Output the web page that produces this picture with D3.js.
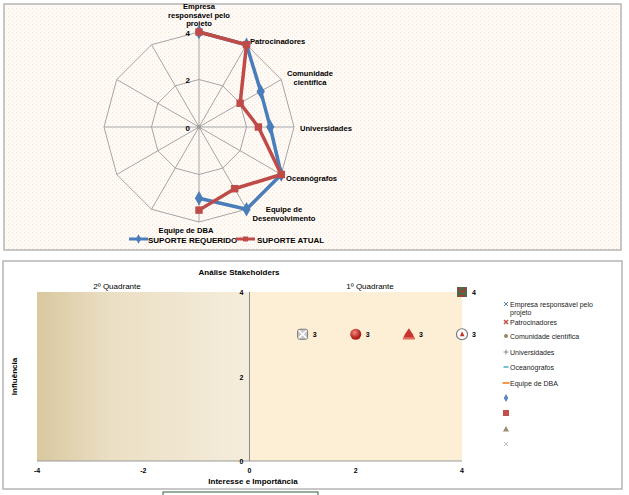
<!DOCTYPE html>
<html>
<head>
<meta charset="utf-8">
<script src="https://cdn.jsdelivr.net/npm/d3@7"></script>
<style>
  body { margin: 0; background: #fff; }
  svg text { font-family: "Liberation Sans", Arial, sans-serif; }
</style>
</head>
<body>
<svg id="chart" width="629" height="495"></svg>
<script>
// radar data (12 axes, the last 5 empty)
const categorias = [
  ["Empresa", "responsável pelo", "projeto"],
  ["Patrocinadores"],
  ["Comunidade", "científica"],
  ["Universidades"],
  ["Oceanógrafos"],
  ["Equipe de", "Desenvolvimento"],
  ["Equipe de DBA"],
  [], [], [], [], []
];
const suporteRequerido = [4, 4, 3, 3, 4, 4, 3, null, null, null, null, null];
const suporteAtual = [4, 4, 2, 2.5, 4, 3, 3.5, null, null, null, null, null];
const radarTicks = [0, 2, 4];

// scatter data
const stakeX = [1, 2, 3, 4, 4];
const stakeY = [3, 3, 3, 3, 4];
const stakeLabel = ["3", "3", "3", "3", "4"];
const xTicks = [-4, -2, 0, 2, 4];
const yTicks = [0, 2, 4];
const legendNames = ["Empresa responsável pelo|projeto", "Patrocinadores", "Comunidade científica",
  "Universidades", "Oceanógrafos", "Equipe de DBA", "", "", "", ""];

const svg = d3.select("#chart");
const defs = svg.append("defs");

// dotted background pattern for radar chart
const pat = defs.append("pattern").attr("id", "dots").attr("width", 4).attr("height", 4)
  .attr("patternUnits", "userSpaceOnUse");
pat.append("rect").attr("width", 4).attr("height", 4).attr("fill", "#fffcf9");
pat.append("rect").attr("x", 0).attr("y", 0).attr("width", 1.2).attr("height", 1.2).attr("fill", "#fbe4d2");
pat.append("rect").attr("x", 2).attr("y", 2).attr("width", 1.2).attr("height", 1.2).attr("fill", "#fbe9da");

const grad = defs.append("linearGradient").attr("id", "leftbg");
grad.append("stop").attr("offset", "0%").attr("stop-color", "#d9c89f");
grad.append("stop").attr("offset", "35%").attr("stop-color", "#ebdfc4");
grad.append("stop").attr("offset", "100%").attr("stop-color", "#f5eddc");

const ball = defs.append("radialGradient").attr("id", "ball").attr("cx", "40%").attr("cy", "35%");
ball.append("stop").attr("offset", "0%").attr("stop-color", "#f08a80");
ball.append("stop").attr("offset", "100%").attr("stop-color", "#b3201b");

/** RADAR **/
svg.append("rect").attr("x", 4).attr("y", 4).attr("width", 617).attr("height", 246)
  .attr("fill", "url(#dots)").attr("stroke", "#b5b5b5").attr("stroke-width", 1.5);

const cx = 199, cy = 127;
const r = d3.scaleLinear().domain([0, 4]).range([0, 95]);
const ang = (i) => (i * 2 * Math.PI) / categorias.length;
const pt = (i, v) => [cx + r(v) * Math.sin(ang(i)), cy - r(v) * Math.cos(ang(i))];

const radar = svg.append("g");
radarTicks.filter((t) => t > 0).forEach((t) => {
  radar.append("path")
    .attr("d", d3.line()(categorias.map((c, i) => pt(i, t))) + "Z")
    .attr("fill", "none").attr("stroke", "#a6a6a6").attr("stroke-width", 1);
});
categorias.forEach((c, i) => {
  const p = pt(i, 4);
  radar.append("line").attr("x1", cx).attr("y1", cy).attr("x2", p[0]).attr("y2", p[1])
    .attr("stroke", "#a6a6a6").attr("stroke-width", 1);
});
radar.append("circle").attr("cx", cx).attr("cy", cy).attr("r", 2).attr("fill", "#999");
radarTicks.forEach((t) => {
  radar.append("text").attr("x", cx - 9).attr("y", cy - r(t) + 3.5)
    .attr("text-anchor", "end").attr("font-size", 8).attr("font-weight", "bold").text(t);
});

const labelPos = [
  { x: 199, y: 9, a: "middle" },
  { x: 250, y: 44, a: "start" },
  { x: 310, y: 76, a: "middle" },
  { x: 300, y: 131, a: "start" },
  { x: 286, y: 181, a: "start" },
  { x: 284, y: 212, a: "middle" },
  { x: 186, y: 233, a: "middle" }
];
labelPos.forEach((lp, i) => {
  const t = radar.append("text").attr("x", lp.x).attr("y", lp.y)
    .attr("text-anchor", lp.a).attr("font-size", 7.6).attr("font-weight", "bold");
  categorias[i].forEach((s, j) => t.append("tspan").attr("x", lp.x).attr("dy", j ? 8.7 : 0).text(s));
});

const line = d3.line().defined((d) => d != null).x((d, i) => pt(i, d)[0]).y((d, i) => pt(i, d)[1]);
const series = [
  { vals: suporteRequerido, color: "#4a7ebb", shape: d3.symbolDiamond, size: 60 },
  { vals: suporteAtual, color: "#be4b48", shape: d3.symbolSquare, size: 55 }
];
series.forEach((s) => {
  radar.append("path").attr("d", line(s.vals)).attr("fill", "none")
    .attr("stroke", s.color).attr("stroke-width", 3.5).attr("stroke-linejoin", "round");
  s.vals.forEach((v, i) => {
    if (v == null) return;
    const p = pt(i, v);
    radar.append("path").attr("d", d3.symbol(s.shape, s.size)())
      .attr("transform", `translate(${p[0]},${p[1]})`).attr("fill", s.color);
  });
});

// radar legend
[{ x: 129, tx: 148, s: series[0], name: "SUPORTE REQUERIDO" },
 { x: 236, tx: 257, s: series[1], name: "SUPORTE ATUAL" }].forEach((l) => {
  radar.append("line").attr("x1", l.x).attr("x2", l.x + 19).attr("y1", 239).attr("y2", 239)
    .attr("stroke", l.s.color).attr("stroke-width", 3);
  radar.append("path").attr("d", d3.symbol(l.s.shape, 25)())
    .attr("transform", `translate(${l.x + 9.5},239)`).attr("fill", l.s.color);
  radar.append("text").attr("x", l.tx).attr("y", 242.5).attr("font-size", 8)
    .attr("font-weight", "bold").text(l.name);
});

/** SCATTER **/
svg.append("rect").attr("x", 3).attr("y", 261).attr("width", 619).attr("height", 228)
  .attr("fill", "#fff").attr("stroke", "#b5b5b5").attr("stroke-width", 1.5);

const x = d3.scaleLinear().domain([-4, 4]).range([37, 462]);
const y = d3.scaleLinear().domain([0, 4]).range([461, 292]);
const sc = svg.append("g");

sc.append("rect").attr("x", x(-4)).attr("y", y(4)).attr("width", x(0) - x(-4)).attr("height", y(0) - y(4))
  .attr("fill", "url(#leftbg)");
sc.append("rect").attr("x", x(0)).attr("y", y(4)).attr("width", x(4) - x(0)).attr("height", y(0) - y(4))
  .attr("fill", "#fcefd6");

sc.append("line").attr("x1", x(-4)).attr("x2", x(4)).attr("y1", y(0)).attr("y2", y(0))
  .attr("stroke", "#9a9a9a");
sc.append("line").attr("x1", x(0)).attr("x2", x(0)).attr("y1", y(0)).attr("y2", y(4))
  .attr("stroke", "#8a8a8a");

xTicks.forEach((t) => {
  sc.append("text").attr("x", x(t)).attr("y", 473).attr("text-anchor", "middle")
    .attr("font-size", 7).attr("font-weight", "bold").text(t);
});
yTicks.forEach((t) => {
  sc.append("text").attr("x", x(0) - 6).attr("y", y(t) + 3).attr("text-anchor", "end")
    .attr("font-size", 7).attr("font-weight", "bold").text(t);
});

sc.append("text").attr("x", 239).attr("y", 275).attr("text-anchor", "middle")
  .attr("font-size", 8).attr("font-weight", "bold").text("Análise Stakeholders");
sc.append("text").attr("x", 117).attr("y", 289).attr("text-anchor", "middle")
  .attr("font-size", 8).text("2º Quadrante");
sc.append("text").attr("x", 370).attr("y", 289).attr("text-anchor", "middle")
  .attr("font-size", 8).text("1º Quadrante");
sc.append("text").attr("x", 253).attr("y", 484).attr("text-anchor", "middle")
  .attr("font-size", 8).attr("font-weight", "bold").text("Interesse e Importância");
sc.append("text").attr("transform", `translate(17,${y(2)}) rotate(-90)`).attr("text-anchor", "middle")
  .attr("font-size", 8).attr("font-weight", "bold").text("Influência");

// picture-like markers
const drawMarker = (g, i) => {
  if (i === 0) {
    g.append("rect").attr("x", -5).attr("y", -5).attr("width", 10).attr("height", 10).attr("rx", 2)
      .attr("fill", "#c9c9c9").attr("stroke", "#777");
    g.append("path").attr("d", "M-4,-4L4,4M4,-4L-4,4").attr("stroke", "#fff").attr("stroke-width", 1.5);
  } else if (i === 1) {
    g.append("circle").attr("r", 5.5).attr("fill", "url(#ball)");
  } else if (i === 2) {
    g.append("path").attr("d", "M-6,5L-4,0L0,-6L4,0L6,5Z").attr("fill", "#c8352f");
    g.append("rect").attr("x", -6).attr("y", 3).attr("width", 12).attr("height", 2).attr("fill", "#e07060");
  } else if (i === 3) {
    g.append("circle").attr("r", 5.5).attr("fill", "#fff").attr("stroke", "#777").attr("stroke-width", 1.2);
    g.append("path").attr("d", "M0,-3L2.5,2L-2,2Z").attr("fill", "#c0302a");
  } else {
    g.append("rect").attr("x", -5).attr("y", -5).attr("width", 10).attr("height", 10).attr("fill", "#4d6b4a");
    g.append("path").attr("d", "M-4,-4L-1,0M3,-4L1,1M-3,4L3,4").attr("stroke", "#c03030").attr("stroke-width", 1.5);
  }
};
stakeX.forEach((v, i) => {
  const g = sc.append("g").attr("transform", `translate(${x(v)},${y(stakeY[i])})`);
  drawMarker(g, i);
  sc.append("text").attr("x", x(v) + 10).attr("y", y(stakeY[i]) + 3).attr("font-size", 7)
    .attr("font-weight", "bold").text(stakeLabel[i]);
});

// legend
const legY = [307, 325, 339, 355, 370, 386, 401, 416, 432, 447];
const lg = sc.append("g");
legendNames.forEach((n, i) => {
  const m = lg.append("g").attr("transform", `translate(506,${legY[i] - 3})`);
  if (i === 0) m.append("path").attr("d", "M-2,-2L2,2M2,-2L-2,2").attr("stroke", "#4f81bd");
  if (i === 1) m.append("path").attr("d", "M-2,-2L2,2M2,-2L-2,2").attr("stroke", "#c0504d").attr("stroke-width", 1.5);
  if (i === 2) m.append("circle").attr("r", 2).attr("fill", "#9b8560");
  if (i === 3) m.append("path").attr("d", "M-2.5,0L2.5,0M0,-2.5L0,2.5").attr("stroke", "#8c8c8c");
  if (i === 4) m.append("path").attr("d", "M-2.5,0L2.5,0").attr("stroke", "#4bacc6").attr("stroke-width", 1.5);
  if (i === 5) m.append("path").attr("d", "M-3.5,0L3.5,0").attr("stroke", "#f79646").attr("stroke-width", 2);
  if (i === 6) m.append("path").attr("d", d3.symbol(d3.symbolDiamond, 18)()).attr("fill", "#5b86bf");
  if (i === 7) m.append("rect").attr("x", -3).attr("y", -3).attr("width", 6).attr("height", 6).attr("fill", "#c0504d");
  if (i === 8) m.append("path").attr("d", "M-3,2.5L0,-3L3,2.5Z").attr("fill", "#9b8b72");
  if (i === 9) m.append("path").attr("d", "M-2,-2L2,2M2,-2L-2,2").attr("stroke", "#bbb");
  if (!n) return;
  const t = lg.append("text").attr("x", 510).attr("y", legY[i]).attr("font-size", 7).attr("fill", "#222");
  n.split("|").forEach((s, j) => t.append("tspan").attr("x", 510).attr("dy", j ? 7.5 : 0).text(s));
});

// partial box below chart
svg.append("rect").attr("x", 163).attr("y", 492).attr("width", 155).attr("height", 10)
  .attr("fill", "#fff").attr("stroke", "#2f5f3a").attr("stroke-width", 1);
</script>
</body>
</html>
